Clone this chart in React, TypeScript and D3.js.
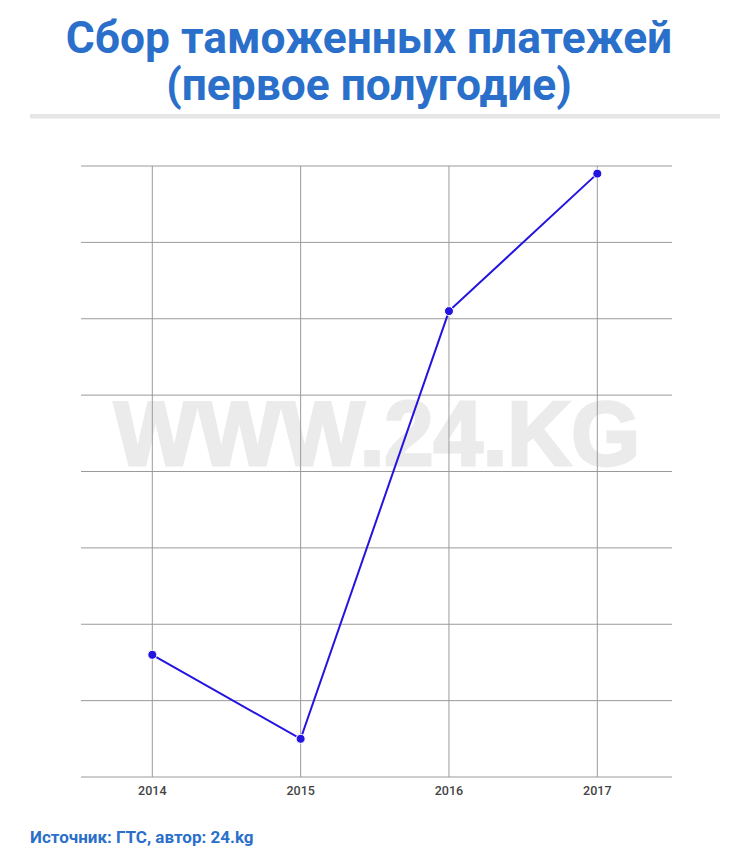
import React from "react";
import * as d3 from "d3";

const years = ["2014", "2015", "2016", "2017"];
const values = [1.6, 0.5, 6.1, 7.9];
const yTicks = [0, 1, 2, 3, 4, 5, 6, 7, 8];
const titleLines = ["Сбор таможенных платежей", "(первое полугодие)"];
const footer = "Источник: ГТС, автор: 24.kg";
const watermark = "WWW.24.KG";

const W = 750;
const H = 859;

export default function App() {
  const left = 81;
  const right = 672;
  const top = 166;
  const bottom = 777;
  const x = d3.scalePoint<string>().domain(years).range([152.3, 597.3]);
  const y = d3.scaleLinear().domain([0, 8]).range([bottom, top]);
  const line = d3
    .line<number>()
    .x((_, i) => x(years[i])!)
    .y((d) => y(d));
  const blue = "#2a6fca";
  return (
    <div style={{ position: "absolute", left: 0, top: 0, width: W, height: H, background: "#fff" }}>
      <svg width={W} height={H} style={{ display: "block" }}>
        <rect width={W} height={H} fill="#fff" />
        {titleLines.map((t, i) => (
          <text
            key={i}
            x={369}
            y={53 + i * 47}
            textAnchor="middle"
            fontFamily="Roboto"
            fontWeight={700}
            fontSize={44.3}
            fill={blue}
          >
            {t}
          </text>
        ))}
        <rect x={30} y={114} width={690} height={4.5} fill="#e6e6e6" />
        <text
          x={377}
          y={465}
          textAnchor="middle"
          fontFamily="Liberation Sans"
          fontWeight={700}
          fontSize={90}
          fill="#ebebeb"
          stroke="#ebebeb"
          strokeWidth={3}
          textLength={526}
          lengthAdjust="spacingAndGlyphs"
        >
          {watermark}
        </text>
        {yTicks.map((t) => (
          <line key={"h" + t} x1={left} x2={right} y1={y(t)} y2={y(t)} stroke="#9a9a9a" strokeWidth={1} />
        ))}
        {years.map((yr) => (
          <line key={"v" + yr} x1={x(yr)} x2={x(yr)} y1={top} y2={bottom} stroke="#9a9a9a" strokeWidth={1} />
        ))}
        {years.map((yr) => (
          <text
            key={"l" + yr}
            x={x(yr)}
            y={795}
            textAnchor="middle"
            fontFamily="Roboto"
            fontWeight={500}
            fontSize={12.5}
            fill="#444"
          >
            {yr}
          </text>
        ))}
        <path d={line(values)!} fill="none" stroke="#2414e0" strokeWidth={2} />
        {values.map((v, i) => (
          <circle key={"c" + i} cx={x(years[i])} cy={y(v)} r={4.5} fill="#2414e0" stroke="#fff" strokeWidth={1} />
        ))}
        <text x={30} y={843} fontFamily="Roboto" fontWeight={700} fontSize={17} fill={blue}>
          {footer}
        </text>
      </svg>
    </div>
  );
}
